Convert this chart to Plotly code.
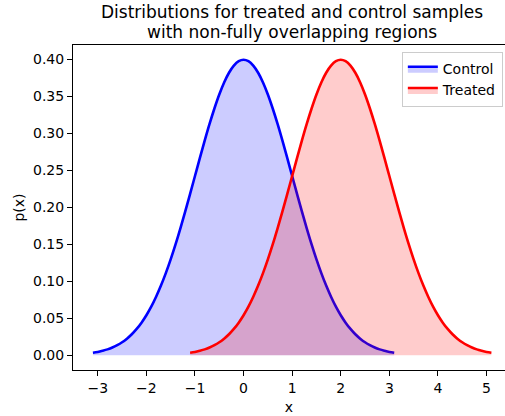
import plotly.graph_objects as go

# Curve samples (density values at x step 0.1)
control_x = [-3.1, -3.0, -2.9, -2.8, -2.7, -2.6, -2.5, -2.4, -2.3, -2.2, -2.1,
             -2.0, -1.9, -1.8, -1.7, -1.6, -1.5, -1.4, -1.3, -1.2, -1.1,
             -1.0, -0.9, -0.8, -0.7, -0.6, -0.5, -0.4, -0.3, -0.2, -0.1,
             0.0, 0.1, 0.2, 0.3, 0.4, 0.5, 0.6, 0.7, 0.8, 0.9, 1.0,
             1.1, 1.2, 1.3, 1.4, 1.5, 1.6, 1.7, 1.8, 1.9, 2.0,
             2.1, 2.2, 2.3, 2.4, 2.5, 2.6, 2.7, 2.8, 2.9, 3.0, 3.1]
control_y = [0.0033, 0.0044, 0.0060, 0.0079, 0.0104, 0.0136, 0.0175, 0.0224, 0.0283, 0.0355, 0.0440,
             0.0540, 0.0656, 0.0790, 0.0940, 0.1109, 0.1295, 0.1497, 0.1714, 0.1942, 0.2179,
             0.2420, 0.2661, 0.2897, 0.3123, 0.3332, 0.3521, 0.3683, 0.3814, 0.3910, 0.3970,
             0.3989, 0.3970, 0.3910, 0.3814, 0.3683, 0.3521, 0.3332, 0.3123, 0.2897, 0.2661, 0.2420,
             0.2179, 0.1942, 0.1714, 0.1497, 0.1295, 0.1109, 0.0940, 0.0790, 0.0656, 0.0540,
             0.0440, 0.0355, 0.0283, 0.0224, 0.0175, 0.0136, 0.0104, 0.0079, 0.0060, 0.0044, 0.0033]

treated_x = [-1.1, -1.0, -0.9, -0.8, -0.7, -0.6, -0.5, -0.4, -0.3, -0.2, -0.1,
             0.0, 0.1, 0.2, 0.3, 0.4, 0.5, 0.6, 0.7, 0.8, 0.9,
             1.0, 1.1, 1.2, 1.3, 1.4, 1.5, 1.6, 1.7, 1.8, 1.9,
             2.0, 2.1, 2.2, 2.3, 2.4, 2.5, 2.6, 2.7, 2.8, 2.9, 3.0,
             3.1, 3.2, 3.3, 3.4, 3.5, 3.6, 3.7, 3.8, 3.9, 4.0,
             4.1, 4.2, 4.3, 4.4, 4.5, 4.6, 4.7, 4.8, 4.9, 5.0, 5.1]
treated_y = [0.0033, 0.0044, 0.0060, 0.0079, 0.0104, 0.0136, 0.0175, 0.0224, 0.0283, 0.0355, 0.0440,
             0.0540, 0.0656, 0.0790, 0.0940, 0.1109, 0.1295, 0.1497, 0.1714, 0.1942, 0.2179,
             0.2420, 0.2661, 0.2897, 0.3123, 0.3332, 0.3521, 0.3683, 0.3814, 0.3910, 0.3970,
             0.3989, 0.3970, 0.3910, 0.3814, 0.3683, 0.3521, 0.3332, 0.3123, 0.2897, 0.2661, 0.2420,
             0.2179, 0.1942, 0.1714, 0.1497, 0.1295, 0.1109, 0.0940, 0.0790, 0.0656, 0.0540,
             0.0440, 0.0355, 0.0283, 0.0224, 0.0175, 0.0136, 0.0104, 0.0079, 0.0060, 0.0044, 0.0033]

x_ticks = [-3, -2, -1, 0, 1, 2, 3, 4, 5]
x_tick_labels = ["\u22123", "\u22122", "\u22121", "0", "1", "2", "3", "4", "5"]
y_ticks = [0.00, 0.05, 0.10, 0.15, 0.20, 0.25, 0.30, 0.35, 0.40]
title_lines = ["Distributions for treated and control samples",
               "with non-fully overlapping regions"]

FONT = "DejaVu Sans"

fig = go.Figure()
fig.add_trace(go.Scatter(x=control_x, y=control_y, mode="lines", name="Control",
                         line=dict(color="blue", width=2.6, shape="spline"),
                         fill="tozeroy", fillcolor="rgba(0,0,255,0.2)"))
fig.add_trace(go.Scatter(x=treated_x, y=treated_y, mode="lines", name="Treated",
                         line=dict(color="red", width=2.6, shape="spline"),
                         fill="tozeroy", fillcolor="rgba(255,0,0,0.2)"))

# title lines placed like the reference (centres at ~12 px and ~31 px from top)
for line, ypx in zip(title_lines, [12.5, 31.5]):
    fig.add_annotation(text=line, xref="paper", yref="paper",
                       x=(292 - 73) / 432, y=(370 - ypx) / 325,
                       xanchor="center", yanchor="middle",
                       showarrow=False, font=dict(family=FONT, size=17, color="black"))

fig.update_layout(
    width=505, height=416,
    margin=dict(l=73, r=0, t=45, b=46),
    paper_bgcolor="white", plot_bgcolor="white",
    font=dict(family=FONT, size=14, color="black"),
    legend=dict(x=0.995, y=0.978, xanchor="right", yanchor="top",
                bgcolor="rgba(255,255,255,0.8)", bordercolor="#cccccc", borderwidth=1,
                font=dict(family=FONT, size=14, color="black")),
    xaxis=dict(range=[-3.51, 5.38], tickvals=x_ticks, ticktext=x_tick_labels,
               showgrid=False, zeroline=False, showline=True, linecolor="black", linewidth=1.1,
               mirror=True, ticks="outside", ticklen=5, tickcolor="black", tickwidth=1.1,
               title=dict(text="x", standoff=7, font=dict(size=14))),
    yaxis=dict(range=[-0.01995, 0.4189], tickvals=y_ticks, tickformat=".2f",
               showgrid=False, zeroline=False, showline=True, linecolor="black", linewidth=1.1,
               ticks="outside", ticklen=5, tickcolor="black", tickwidth=1.1,
               title=dict(text="p(x)", standoff=5, font=dict(size=14))),
)

fig.write_html("out.html")
